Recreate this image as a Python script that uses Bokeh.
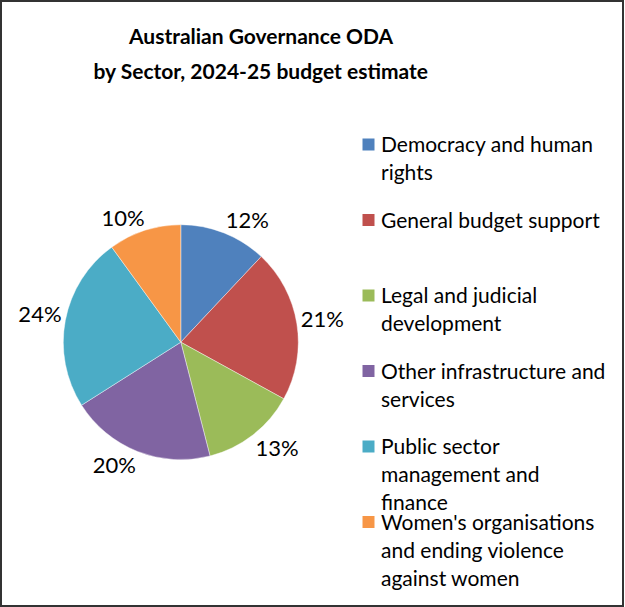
import numpy as np
from bokeh.plotting import figure
from bokeh.models import Range1d
from bokeh.core.properties import value
from bokeh.embed import file_html
from bokeh.resources import INLINE

# ---- data ----
title_lines = ["Australian Governance ODA", "by Sector, 2024-25 budget estimate"]
sectors = [
    "Democracy and human rights",
    "General budget support",
    "Legal and judicial development",
    "Other infrastructure and services",
    "Public sector management and finance",
    "Women's organisations and ending violence against women",
]
legend_lines = [
    ["Democracy and human", "rights"],
    ["General budget support"],
    ["Legal and judicial", "development"],
    ["Other infrastructure and", "services"],
    ["Public sector", "management and", "finance"],
    ["Women's organisations", "and ending violence", "against women"],
]
shares = [12, 21, 13, 20, 24, 10]
colors = ["#4F81BD", "#C0504D", "#9BBB59", "#8064A2", "#4BACC6", "#F79646"]

# ---- layout / style ----
W, H = 624, 607
FONT = "Lato"
CX, CY, R = 180.3, 341.7, 117.5


def Y(sy):
    return H - sy


p = figure(width=W, height=H, x_range=Range1d(0, W), y_range=Range1d(0, H),
           output_backend="svg", toolbar_location=None,
           x_axis_location=None, y_axis_location=None,
           min_border=0, background_fill_color="white", border_fill_color="white",
           outline_line_color="#333333", outline_line_width=3,
           margin=(0, 0, 0, 0))
p.grid.visible = False

# pie
vals = np.array(shares, dtype=float)
frac = vals / vals.sum()
cum = np.concatenate([[0.0], np.cumsum(frac)])
start = np.pi / 2 - 2 * np.pi * cum[:-1]
end = np.pi / 2 - 2 * np.pi * cum[1:]
p.wedge(x=CX, y=Y(CY), radius=R, radius_units="screen",
        start_angle=start, end_angle=end, direction="clock",
        fill_color=colors, line_color="white", line_width=0.6, line_alpha=0.7)

# data labels (outside end)
mid = 2 * np.pi * (cum[:-1] + cum[1:]) / 2  # clockwise from top
ux, uy = np.sin(mid), -np.cos(mid)          # screen direction
r0, hw, hh = 121.0, 22.0, 10.0
lx = CX + r0 * ux + hw * np.clip(ux * 3, -1, 1)
ly = CY + r0 * uy + hh * np.clip(uy * 3, -1, 1)
labels = [f"{int(round(v))}%" for v in shares]
p.text(x=lx, y=[Y(v) for v in ly], text=labels, text_font=value(FONT),
       text_font_size="22px", text_align="center", text_baseline="middle",
       text_color="#000000")

# title
p.text(x=[260.5, 260.5], y=[Y(35.0), Y(69.5)], text=title_lines,
       text_font=value(FONT), text_font_size="21px", text_font_style="bold",
       text_align="center", text_baseline="middle", text_color="#000000")

# legend
slot0, slot_step, line_step = 143.0, 75.5, 28.0
sq_x, sq_size, txt_x = 368.0, 12, 380.5
for i, (lines, col) in enumerate(zip(legend_lines, colors)):
    sy = slot0 + i * slot_step
    p.rect(x=sq_x, y=Y(sy + 1), width=sq_size, height=sq_size,
           width_units="screen", height_units="screen",
           fill_color=col, line_color=None)
    p.text(x=[txt_x] * len(lines), y=[Y(sy + j * line_step) for j in range(len(lines))],
           text=lines, text_font=value(FONT), text_font_size="21px",
           text_align="left", text_baseline="middle", text_color="#000000")

open("out.html", "w").write(file_html(p, INLINE))
